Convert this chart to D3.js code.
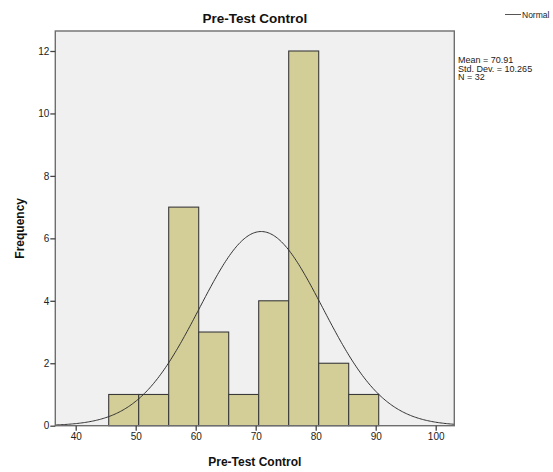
<!DOCTYPE html>
<html><head><meta charset="utf-8">
<script src="https://cdn.jsdelivr.net/npm/d3@7"></script>
<style>body{margin:0;background:#fff}svg{display:block}text{font-family:Arial,"Liberation Sans",sans-serif}</style>
</head><body>
<svg id="c" width="553" height="472"></svg>
<script>
const binStarts = [45.5, 50.5, 55.5, 60.5, 65.5, 70.5, 75.5, 80.5, 85.5];
const frequencies = [1, 1, 7, 3, 1, 4, 12, 2, 1];
const binWidth = 5;
const xTicks = [40, 50, 60, 70, 80, 90, 100];
const yTicks = [0, 2, 4, 6, 8, 10, 12];
const mean = 70.91, sd = 10.265, n = 32;

const svg = d3.select("#c");
const L = 55.3, R = 454.3, T = 31, B = 425.7;
const x = d3.scaleLinear().domain([40, 100]).range([75.7, 435.7]);
const y = d3.scaleLinear().domain([0, 12]).range([B, 51]);

svg.append("rect").attr("x", L).attr("y", T).attr("width", R - L).attr("height", B - T)
  .attr("fill", "#f0f0f0");

svg.selectAll(".bar").data(binStarts).join("rect")
  .attr("x", d => x(d)).attr("width", d => x(d + binWidth) - x(d))
  .attr("y", (d, i) => y(frequencies[i])).attr("height", (d, i) => y(0) - y(frequencies[i]))
  .attr("fill", "#d3ce97").attr("stroke", "#3a3a3a").attr("stroke-width", 1.1);

// normal curve from displayed statistics
const x0 = x.invert(L), x1 = x.invert(R);
const pts = d3.range(0, 301).map(i => {
  const v = x0 + (x1 - x0) * i / 300;
  const f = n * binWidth / (sd * Math.sqrt(2 * Math.PI)) * Math.exp(-0.5 * ((v - mean) / sd) ** 2);
  return [v, f];
});
svg.append("path").datum(pts).attr("fill", "none").attr("stroke", "#333").attr("stroke-width", 1)
  .attr("d", d3.line().x(d => x(d[0])).y(d => y(d[1])));

svg.append("rect").attr("x", L).attr("y", T).attr("width", R - L).attr("height", B - T)
  .attr("fill", "none").attr("stroke", "#6e6e6e").attr("stroke-width", 1.4);

const xa = svg.append("g").attr("transform", `translate(0,${B})`)
  .call(d3.axisBottom(x).tickValues(xTicks).tickSize(5).tickPadding(2).tickFormat(d3.format("d")));
xa.select(".domain").remove();
const ya = svg.append("g").attr("transform", `translate(${L},0)`)
  .call(d3.axisLeft(y).tickValues(yTicks).tickSize(5).tickPadding(1).tickFormat(d3.format("d")));
ya.select(".domain").remove();
svg.selectAll(".tick line").attr("stroke", "#444").attr("stroke-width", 1.3);
svg.selectAll(".tick text").attr("fill", "#222").style("font-size", "10px")
  .style("font-family", 'Arial,"Liberation Sans",sans-serif');

svg.append("text").attr("x", (L + R) / 2).attr("y", 23).attr("text-anchor", "middle")
  .style("font-size", "13.5px").style("font-weight", "bold").attr("fill", "#111").text("Pre-Test Control");
svg.append("text").attr("x", (L + R) / 2).attr("y", 466).attr("text-anchor", "middle")
  .style("font-size", "12px").style("font-weight", "bold").attr("fill", "#111").text("Pre-Test Control");
svg.append("text").attr("transform", `translate(24,${(T + B) / 2}) rotate(-90)`).attr("text-anchor", "middle")
  .style("font-size", "12px").style("font-weight", "bold").attr("fill", "#111").text("Frequency");

svg.append("line").attr("x1", 505).attr("x2", 521).attr("y1", 14.5).attr("y2", 14.5)
  .attr("stroke", "#555").attr("stroke-width", 1);
svg.append("text").attr("x", 522).attr("y", 18).style("font-size", "8.5px").attr("fill", "#222").text("Normal");

const stats = [`Mean = ${mean}`, `Std. Dev. = ${sd}`, `N = ${n}`];
svg.selectAll(".st").data(stats).join("text").attr("x", 458).attr("y", (d, i) => 63 + i * 8.5)
  .style("font-size", "9px").attr("fill", "#222").text(d => d);
</script>
</body></html>
